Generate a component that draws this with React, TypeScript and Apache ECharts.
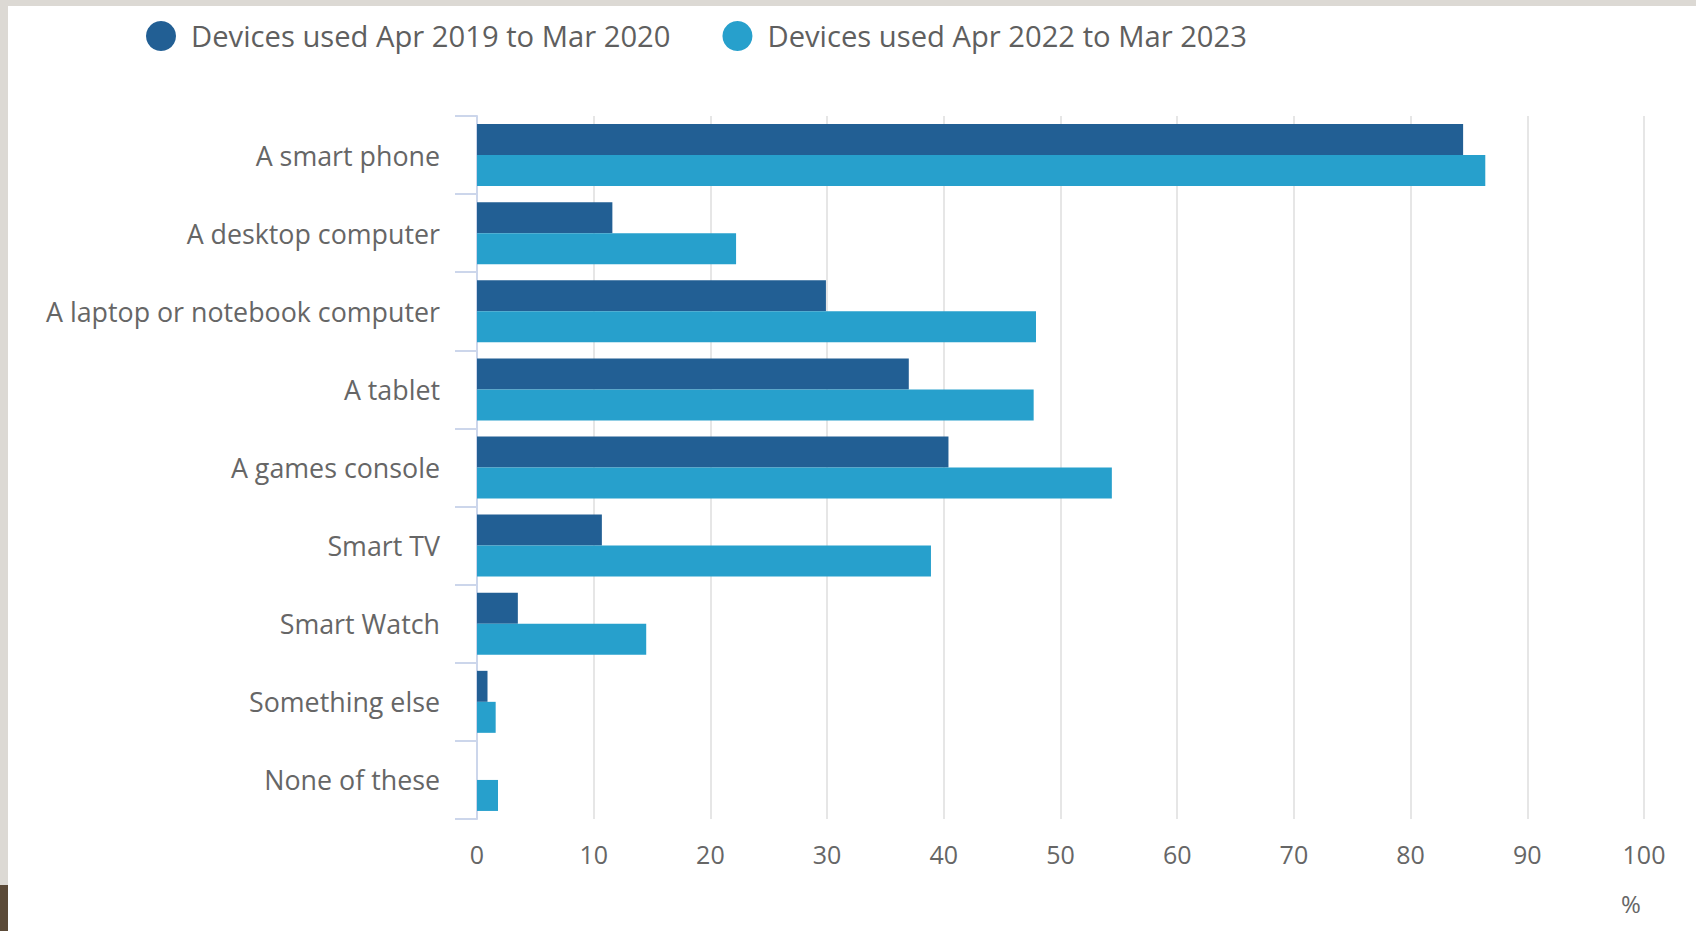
import React, { useEffect, useRef } from "react";
import * as echarts from "echarts";

const categories = [
  "A smart phone",
  "A desktop computer",
  "A laptop or notebook computer",
  "A tablet",
  "A games console",
  "Smart TV",
  "Smart Watch",
  "Something else",
  "None of these",
];
const series2019 = [84.5, 11.6, 29.9, 37.0, 40.4, 10.7, 3.5, 0.9, 0];
const series2023 = [86.4, 22.2, 47.9, 47.7, 54.4, 38.9, 14.5, 1.6, 1.8];
const seriesNames = ["Devices used Apr 2019 to Mar 2020", "Devices used Apr 2022 to Mar 2023"];
const xTicks = [0, 10, 20, 30, 40, 50, 60, 70, 80, 90, 100];
const unitLabel = "%";

const FONT = "'Open Sans', sans-serif";
const TEXT = "#666666";

export default function App() {
  const ref = useRef<HTMLDivElement>(null);
  useEffect(() => {
    if (!ref.current) return;
    const chart = echarts.init(ref.current, undefined, { renderer: "svg" });
    chart.setOption({
      animation: false,
      backgroundColor: "transparent",
      textStyle: { fontFamily: FONT },
      legend: {
        left: 141,
        top: 16,
        itemWidth: 30,
        itemHeight: 30,
        itemGap: 52,
        icon: "circle",
        textStyle: { fontSize: 29.2, color: "#5f5f5f", fontFamily: FONT, padding: [0, 0, 0, 10] },
        data: seriesNames,
      },
      grid: { left: 477, right: 52, top: 116, bottom: 112, containLabel: false },
      xAxis: {
        type: "value",
        min: xTicks[0],
        max: xTicks[xTicks.length - 1],
        interval: 10,
        axisLine: { show: false },
        axisTick: { show: false },
        axisLabel: { color: TEXT, fontSize: 25, fontFamily: FONT, margin: 22 },
        splitLine: { show: true, lineStyle: { color: "#e6e6e6", width: 2 } },
      },
      yAxis: {
        type: "category",
        inverse: true,
        data: categories,
        axisLine: { show: true, lineStyle: { color: "#ccd6eb", width: 2 } },
        axisTick: { show: true, length: 22, lineStyle: { color: "#ccd6eb", width: 2 } },
        axisLabel: { color: TEXT, fontSize: 26.8, fontFamily: FONT, margin: 37 },
      },
      graphic: [
        {
          type: "text",
          left: 1621,
          top: 891,
          style: { text: unitLabel, fill: TEXT, font: `24px ${FONT}` },
        },
      ],
      series: [
        {
          name: seriesNames[0],
          type: "bar",
          data: series2019,
          barWidth: 31,
          barGap: "0%",
          itemStyle: { color: "#225f94" },
        },
        {
          name: seriesNames[1],
          type: "bar",
          data: series2023,
          barWidth: 31,
          barGap: "0%",
          itemStyle: { color: "#27a0cc" },
        },
      ],
    });
    return () => chart.dispose();
  }, []);

  return (
    <div style={{ position: "fixed", left: 0, top: 0, width: 1696, height: 931, background: "#dcd9d4", overflow: "hidden" }}>
      <div style={{ position: "absolute", left: 8, top: 6, width: 1688, height: 925, background: "#ffffff" }} />
      <div style={{ position: "absolute", left: 0, top: 885, width: 8, height: 46, background: "#5b4a38" }} />
      <div ref={ref} style={{ position: "absolute", left: 0, top: 0, width: 1696, height: 931 }} />
    </div>
  );
}
